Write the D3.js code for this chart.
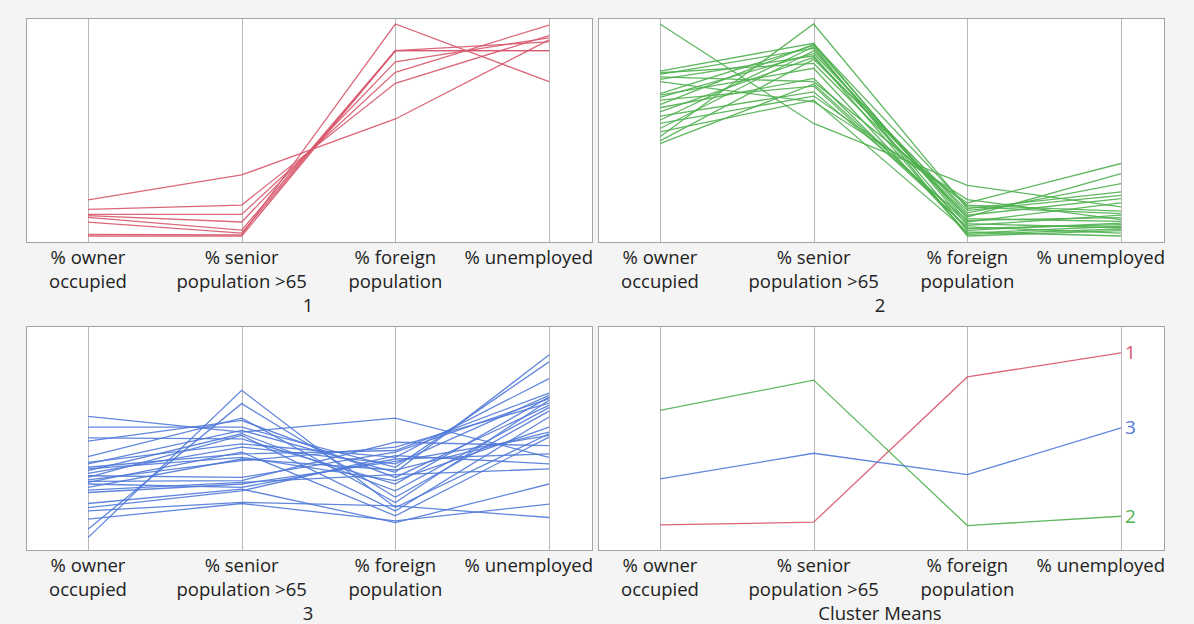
<!DOCTYPE html>
<html>
<head>
<meta charset="utf-8">
<script src="https://cdn.jsdelivr.net/npm/d3@7"></script>
<style>
  html, body { margin: 0; padding: 0; background: #f4f4f4; }
  svg { display: block; }
  text { font-family: "Open Sans", "Noto Sans", sans-serif; fill: #222; }
</style>
</head>
<body>
<svg id="chart" width="1194" height="624"></svg>
<script>
// ---------- data ----------
const dimensions = ["owner", "senior", "foreign", "unemployed"];
const dimensionLabels = [
  ["% owner", "occupied"],
  ["% senior", "population >65"],
  ["% foreign", "population"],
  ["% unemployed"]
];
const panelTitles = ["1", "2", "3", "Cluster Means"];
const clusterNames = ["1", "2", "3"];

// values are on a common 0-100 scaled range (bottom = 0, top = 100)
const cluster1 = [
  [17.0, 28.8, 55.2, 92.5],
  [12.6, 14.6, 72.0, 94.5],
  [10.2, 10.2, 77.2, 99.5],
  [9.6, 6.6, 82.2, 93.5],
  [8.8, 2.8, 87.4, 87.4],
  [6.5, 1.4, 87.4, 91.6],
  [0.8, 0.5, 100, 72.8],
  [0.0, 0.0, 87.4, 87.4]
];
const cluster2 = [
  [100, 53.1, 23.9, 13.7],
  [46.8, 100, 12.9, 20.8],
  [77.8, 90.9, 5.0, 9.8],
  [77.0, 81.4, 9.0, 29.4],
  [76.2, 88.5, 2.7, 6.1],
  [75.1, 72.8, 14.5, 11.7],
  [73.9, 85.0, 0.8, 3.3],
  [72.8, 63.3, 17.2, 7.7],
  [67.2, 89.9, 6.6, 15.6],
  [66.5, 79.1, 1.4, 4.6],
  [65.4, 86.1, 10.9, 24.7],
  [64.1, 70.7, 4.3, 1.4],
  [62.0, 90.4, 13.7, 10.6],
  [60.5, 74.3, 3.5, 5.4],
  [58.6, 84.3, 9.8, 17.6],
  [56.5, 68.0, 7.4, 8.7],
  [54.6, 89.3, 0.0, 2.5],
  [53.1, 66.0, 15.6, 34.2],
  [50.7, 87.4, 8.2, 6.9],
  [49.1, 64.1, 1.9, 0.0],
  [44.9, 83.3, 12.1, 19.2],
  [43.6, 71.7, 5.8, 3.9]
];
const cluster3 = [
  [60.2, 52.8, 59.4, 40.9],
  [3.0, 72.5, 17.2, 52.0],
  [7.0, 66.2, 22.0, 62.7],
  [55.1, 55.1, 36.2, 85.9],
  [50.1, 49.6, 28.3, 69.3],
  [48.5, 58.3, 31.4, 65.4],
  [41.2, 59.4, 19.6, 67.8],
  [38.5, 47.2, 40.9, 78.0],
  [37.8, 53.6, 33.8, 89.1],
  [36.2, 42.5, 44.1, 71.2],
  [35.4, 40.9, 29.9, 55.1],
  [34.6, 52.0, 25.1, 64.3],
  [33.3, 45.7, 37.8, 70.1],
  [32.2, 31.4, 43.3, 68.6],
  [31.4, 51.2, 15.6, 59.9],
  [30.2, 39.3, 45.7, 66.5],
  [29.5, 29.9, 48.0, 46.4],
  [29.1, 43.3, 13.3, 50.4],
  [28.3, 26.7, 40.1, 42.5],
  [26.7, 40.1, 34.9, 52.8],
  [25.4, 29.1, 32.7, 35.4],
  [24.3, 28.3, 39.0, 51.2],
  [19.1, 25.9, 10.1, 28.3],
  [17.2, 25.1, 41.7, 37.8],
  [15.6, 19.6, 18.0, 12.5],
  [11.7, 19.1, 10.9, 18.8]
];
const clusterMeans = [
  [9.0, 10.3, 78.8, 90.2],
  [63.0, 77.3, 8.7, 13.1],
  [30.7, 42.8, 32.7, 54.8]
];

// ---------- styling / layout ----------
const colors = ["#d8566b", "#4fb04f", "#5079d9"];
const panelW = 566, panelH = 224;
const labelFont = "18.5px";
const panels = [
  { x: 26, y: 18 },
  { x: 598, y: 18 },
  { x: 26, y: 326 },
  { x: 598, y: 326 }
];

const svg = d3.select("#chart");

function drawPanel(p, idx, rows, rowColors, endLabels) {
  const g = svg.append("g").attr("transform", `translate(${p.x},${p.y})`);
  g.append("rect").attr("x", 0.5).attr("y", 0.5)
    .attr("width", panelW).attr("height", panelH)
    .attr("fill", "#fff").attr("stroke", "#a4a4a4").attr("stroke-width", 1);

  const x = d3.scalePoint().domain(dimensions).range([62, 523]);
  const y = d3.scaleLinear().domain([0, 100]).range([panelH - 6, 6]);

  // axis lines
  g.selectAll("line.axis").data(dimensions).enter().append("line")
    .attr("class", "axis")
    .attr("x1", d => Math.round(x(d)) + 0.5).attr("x2", d => Math.round(x(d)) + 0.5)
    .attr("y1", 1).attr("y2", panelH)
    .attr("stroke", "#b8b8b8").attr("stroke-width", 1);

  const line = d3.line().x((v, i) => x(dimensions[i])).y(v => y(v));
  g.selectAll("path.series").data(rows).enter().append("path")
    .attr("class", "series")
    .attr("d", d => line(d))
    .attr("fill", "none")
    .attr("stroke", (d, i) => rowColors[i])
    .attr("stroke-width", 1.3)
    .attr("stroke-opacity", 0.9);

  if (endLabels) {
    g.selectAll("text.end").data(rows).enter().append("text")
      .attr("class", "end")
      .attr("x", x(dimensions[3]) + 4)
      .attr("y", d => y(d[3]))
      .attr("dy", "0.35em")
      .style("font-size", "19px")
      .style("fill", (d, i) => rowColors[i])
      .text((d, i) => endLabels[i]);
  }

  // axis labels under the panel (kept inside the panel width)
  dimensions.forEach((dim, i) => {
    const t = g.append("text")
      .attr("y", panelH + 22)
      .attr("text-anchor", "middle")
      .style("font-size", labelFont);
    const spans = dimensionLabels[i].map((s, j) =>
      t.append("tspan").attr("dy", j === 0 ? 0 : 24).text(s));
    const w = t.node().getComputedTextLength ? d3.max(spans, s => s.node().getComputedTextLength()) : 0;
    const cx = Math.min(x(dim), panelW + 1 - w / 2);
    spans.forEach(s => s.attr("x", cx));
  });
  g.append("text")
    .attr("x", panelW / 2 - 1)
    .attr("y", panelH + 70)
    .attr("text-anchor", "middle")
    .style("font-size", labelFont)
    .text(panelTitles[idx]);
}

drawPanel(panels[0], 0, cluster1, cluster1.map(() => colors[0]));
drawPanel(panels[1], 1, cluster2, cluster2.map(() => colors[1]));
drawPanel(panels[2], 2, cluster3, cluster3.map(() => colors[2]));
drawPanel(panels[3], 3, clusterMeans, colors, clusterNames);
</script>
</body>
</html>
